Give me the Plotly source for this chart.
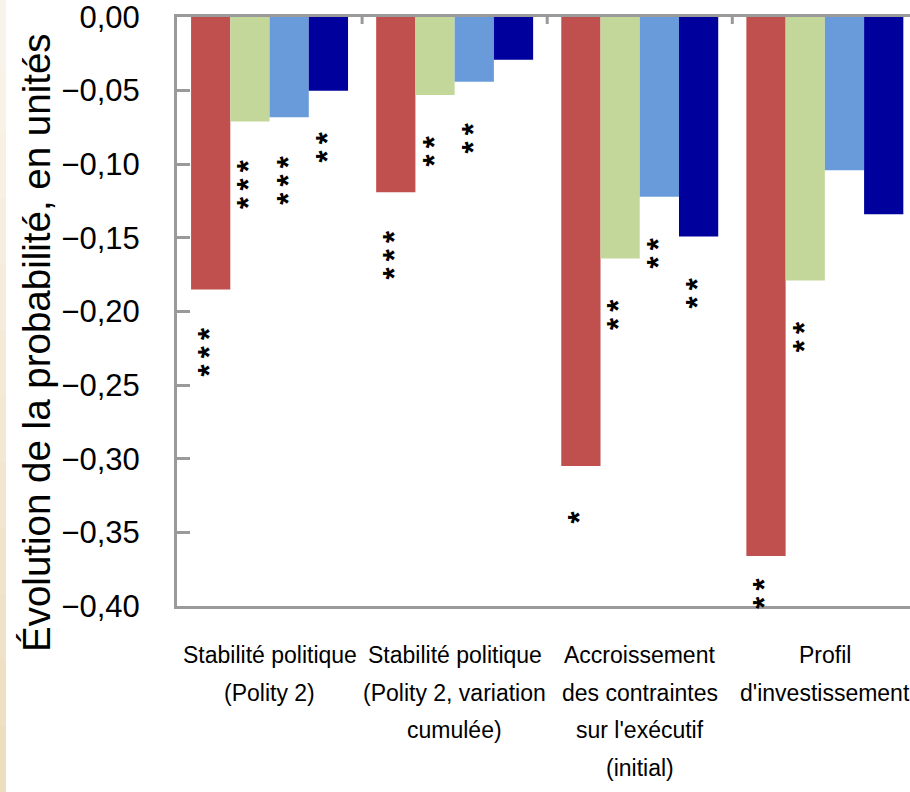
import plotly.graph_objects as go

# ---------------- data ----------------
categories = [
    "Stabilité politique<br>(Polity 2)",
    "Stabilité politique<br>(Polity 2, variation<br>cumulée)",
    "Accroissement<br>des contraintes<br>sur l'exécutif<br>(initial)",
    "Profil<br>d'investissement",
]
series_names = ["Série 1", "Série 2", "Série 3", "Série 4"]
serie_1 = [-0.185, -0.119, -0.305, -0.366]
serie_2 = [-0.071, -0.053, -0.164, -0.179]
serie_3 = [-0.068, -0.044, -0.122, -0.104]
serie_4 = [-0.050, -0.029, -0.149, -0.134]
sig_1 = ["***", "***", "*", "**"]
sig_2 = ["***", "**", "**", "**"]
sig_3 = ["***", "**", "**", ""]
sig_4 = ["**", "", "**", ""]
y_ticks = [0.0, -0.05, -0.10, -0.15, -0.20, -0.25, -0.30, -0.35, -0.40]
y_tick_text = ["0,00", "\u22120,05", "\u22120,10", "\u22120,15", "\u22120,20",
               "\u22120,25", "\u22120,30", "\u22120,35", "\u22120,40"]
y_title = "Évolution de la probabilité, en unités"

values = [serie_1, serie_2, serie_3, serie_4]
sigs = [sig_1, sig_2, sig_3, sig_4]
colors = ["#C0504D", "#C4D79B", "#699BDB", "#00009C"]

# ---------------- layout constants ----------------
W, H = 910, 792
ML, MR, MT, MB = 177, 0, 17, 186
PLOT_W = W - ML - MR
PLOT_H = H - MT - MB
Y_MIN, Y_MAX = -0.40, 0.0
PX_PER_UNIT = PLOT_H / (Y_MAX - Y_MIN)
GROUP_PX = 185.1
X_MIN = -0.5
X_MAX = X_MIN + PLOT_W / GROUP_PX
BARGAP = 0.152
N = len(values)
BAR_W = (1 - BARGAP) / N

FONT = "Liberation Sans, Arial, sans-serif"
AXIS_GREY = "#9a9a9a"

x_pos = list(range(len(categories)))

fig = go.Figure()
for name, vals, col in zip(series_names, values, colors):
    fig.add_trace(go.Bar(x=x_pos, y=vals, name=name, marker_color=col,
                         marker_line_width=0, showlegend=False))

annotations = []

# significance stars: rotated labels below each bar end
STAR_FS = 31
STAR_STEP = 18.3
for s, (vals, sg) in enumerate(zip(values, sigs)):
    for c, (v, txt) in enumerate(zip(vals, sg)):
        n = len(txt)
        if n == 0:
            continue
        xc = c - (1 - BARGAP) / 2 + (s + 0.5) * BAR_W
        end_px = (Y_MAX - v) * PX_PER_UNIT
        off = 50.5 - 3.2 * (n - 1)
        if end_px + off + (n - 1) * STAR_STEP > PLOT_H - 4:
            off = PLOT_H - 4 - end_px - (n - 1) * STAR_STEP
        mid = off + (n - 1) * STAR_STEP / 2
        annotations.append(dict(
            x=xc, y=v, xref="x", yref="y", text="\u2009".join(txt), showarrow=False,
            textangle=-90, xanchor="center", yanchor="middle", xshift=-1,
            yshift=-mid, borderpad=0,
            font=dict(family=FONT, size=STAR_FS, color="#000000", weight="bold")))

# category labels (one annotation per line, spaced like the original)
LINE_STEP = 37.7
FIRST_LINE_PX = 655
for c, lab in enumerate(categories):
    for k, line in enumerate(lab.split("<br>")):
        ypx = FIRST_LINE_PX + k * LINE_STEP
        annotations.append(dict(
            x=c, y=(H - MB - ypx) / PLOT_H, xref="x", yref="paper", text=line,
            showarrow=False, xanchor="center", yanchor="middle",
            font=dict(family=FONT, size=23, color="#000000")))

# y-axis title
annotations.append(dict(
    x=(36 - ML) / PLOT_W, y=(H - MB - 343) / PLOT_H, xref="paper", yref="paper",
    text=y_title, textangle=-90, showarrow=False, xanchor="center", yanchor="middle",
    font=dict(family=FONT, size=38.5, color="#000000")))

shapes = []
# beige strip at left edge (gradient imitation)
top_c = (0xF9, 0xF4, 0xEB)
bot_c = (0xEE, 0xDE, 0xC0)
NSEG = 12
for k in range(NSEG):
    t = k / (NSEG - 1)
    col = tuple(int(round(top_c[j] + (bot_c[j] - top_c[j]) * t)) for j in range(3))
    y1 = 1 + MT / PLOT_H - k * (H / PLOT_H) / NSEG
    y0 = y1 - (H / PLOT_H) / NSEG
    shapes.append(dict(type="rect", xref="paper", yref="paper",
                       x0=-ML / PLOT_W, x1=(6 - ML) / PLOT_W, y0=y0, y1=y1,
                       fillcolor="rgb(%d,%d,%d)" % col, line=dict(width=0), layer="below"))
# short ticks hanging from the top axis line at category boundaries
for c in x_pos[:-1]:
    shapes.append(dict(type="line", xref="x", yref="paper", x0=c + 0.5, x1=c + 0.5,
                       y0=1, y1=1 - 7 / PLOT_H, line=dict(color=AXIS_GREY, width=3)))

fig.update_layout(
    template="none",
    width=W, height=H,
    margin=dict(l=ML, r=MR, t=MT, b=MB, pad=0),
    paper_bgcolor="#FFFFFF", plot_bgcolor="#FFFFFF",
    barmode="group", bargap=BARGAP, bargroupgap=0,
    xaxis=dict(range=[X_MIN, X_MAX], tickvals=x_pos, showticklabels=False,
               showline=True, mirror=True, linecolor=AXIS_GREY, linewidth=3,
               ticks="", showgrid=False, zeroline=False, automargin=False),
    yaxis=dict(range=[Y_MIN, Y_MAX], tickvals=y_ticks, ticktext=y_tick_text,
               showline=True, linecolor=AXIS_GREY, linewidth=3, ticks="inside",
               ticklen=13, tickwidth=3, tickcolor=AXIS_GREY, showgrid=False,
               zeroline=False, automargin=False, ticklabeloverflow="allow",
               tickfont=dict(family=FONT, size=31, color="#000000"),
               ticklabelstandoff=28),
    annotations=annotations,
    shapes=shapes,
)

fig.write_html("out.html", config={"displayModeBar": False},
               post_script="document.body.style.margin='0';")
